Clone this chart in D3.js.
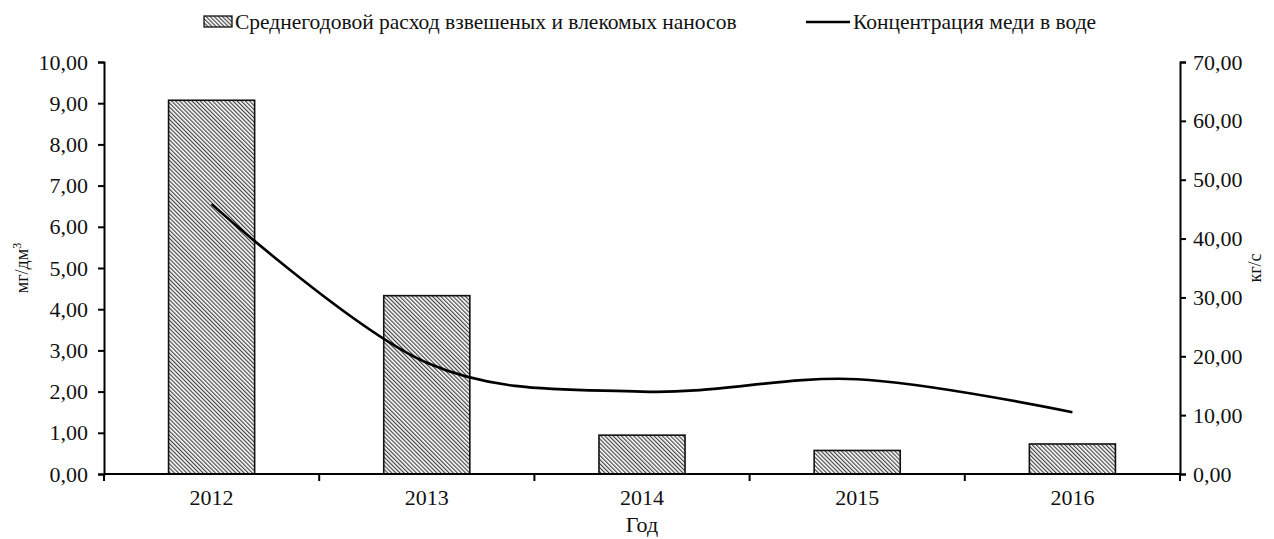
<!DOCTYPE html>
<html>
<head>
<meta charset="utf-8">
<script src="https://cdn.jsdelivr.net/npm/d3@7"></script>
<style>
  html, body { margin: 0; padding: 0; background: #fff; }
  svg { display: block; font-family: "Liberation Serif", "Times New Roman", serif; }
</style>
</head>
<body>
<svg id="chart" width="1274" height="539"></svg>
<script>
// Years on the category axis
const years = ["2012", "2013", "2014", "2015", "2016"];
// Mean annual discharge of suspended and bed sediments, kg/s (bars, right axis)
const sediment = [63.5, 30.3, 6.6, 4.0, 5.1];
// Copper concentration in water, mg/dm3 (smoothed line, left axis)
const copper = [6.55, 2.7, 2.0, 2.3, 1.5];
// Tick values for both value axes
const leftTicks = [0, 1, 2, 3, 4, 5, 6, 7, 8, 9, 10];
const rightTicks = [0, 10, 20, 30, 40, 50, 60, 70];

const seriesNames = ["Среднегодовой расход взвешеных и влекомых наносов", "Концентрация меди в воде"];

const svg = d3.select("#chart");
const plot = { left: 104, right: 1180, top: 62, bottom: 474 };
const ink = "#111";

const x = d3.scaleBand().domain(years).range([plot.left, plot.right]).paddingInner(0.6).paddingOuter(0.3);
const yLeft = d3.scaleLinear().domain([0, 10]).range([plot.bottom, plot.top]);
const yRight = d3.scaleLinear().domain([0, 70]).range([plot.bottom, plot.top]);
const fmt = v => d3.format(".2f")(v).replace(".", ",");

// Fine diagonal hatch fill for the bars
const defs = svg.append("defs");
const pat = defs.append("pattern")
  .attr("id", "hatch")
  .attr("patternUnits", "userSpaceOnUse")
  .attr("width", 2.9).attr("height", 2.9)
  .attr("patternTransform", "rotate(-45)");
pat.append("rect").attr("width", 2.9).attr("height", 2.9).attr("fill", "#fff");
pat.append("rect").attr("x", 0).attr("y", 0).attr("width", 1.2).attr("height", 2.9).attr("fill", "#444");

// Bars
svg.append("g").selectAll("rect")
  .data(years.map((y, i) => ({ y, v: sediment[i] })))
  .join("rect")
  .attr("x", d => x(d.y))
  .attr("y", d => yRight(d.v))
  .attr("width", x.bandwidth())
  .attr("height", d => yRight(0) - yRight(d.v))
  .attr("fill", "url(#hatch)")
  .attr("stroke", ink)
  .attr("stroke-width", 1.6);

// Smoothed concentration line
const line = d3.line()
  .x((d, i) => x(years[i]) + x.bandwidth() / 2)
  .y(d => yLeft(d))
  .curve(d3.curveCardinal.tension(0));
svg.append("path")
  .datum(copper)
  .attr("d", line)
  .attr("fill", "none")
  .attr("stroke", "#000")
  .attr("stroke-width", 2.6);

// Left axis
const gL = svg.append("g").attr("transform", `translate(${plot.left},0)`)
  .call(d3.axisLeft(yLeft).tickValues(leftTicks).tickFormat(fmt).tickSize(6).tickPadding(10));
// Right axis
const gR = svg.append("g").attr("transform", `translate(${plot.right},0)`)
  .call(d3.axisRight(yRight).tickValues(rightTicks).tickFormat(fmt).tickSize(6).tickPadding(7));
// Category axis with ticks between categories
const gX = svg.append("g").attr("transform", `translate(0,${plot.bottom})`)
  .call(d3.axisBottom(x).tickSize(0).tickPadding(15));
const bounds = d3.range(years.length + 1).map(i => plot.left + i * (plot.right - plot.left) / years.length);
gX.selectAll(".between").data(bounds).join("line")
  .attr("class", "between")
  .attr("x1", d => d).attr("x2", d => d)
  .attr("y1", 0).attr("y2", 7)
  .attr("stroke", "#000").attr("stroke-width", 2);
gX.select(".domain").attr("d", `M${plot.left},0H${plot.right}`);

[gL, gR, gX].forEach(g => {
  g.select(".domain").attr("stroke", "#000").attr("stroke-width", 2);
  g.selectAll(".tick line").attr("stroke", "#000").attr("stroke-width", 2);
  g.selectAll("text").attr("font-family", "Liberation Serif, serif").attr("font-size", 22).attr("fill", ink);
});

// Axis titles
svg.append("text")
  .attr("transform", `translate(28,${(plot.top + plot.bottom) / 2}) rotate(-90)`)
  .attr("text-anchor", "middle")
  .attr("font-size", 18).attr("fill", ink)
  .html('мг/дм<tspan dy="-7" font-size="12">3</tspan>');
svg.append("text")
  .attr("transform", `translate(1261,${(plot.top + plot.bottom) / 2}) rotate(-90)`)
  .attr("text-anchor", "middle")
  .attr("font-size", 18).attr("fill", ink)
  .text("кг/с");
svg.append("text")
  .attr("x", (plot.left + plot.right) / 2).attr("y", 532)
  .attr("text-anchor", "middle")
  .attr("font-size", 22).attr("fill", ink)
  .text("Год");

// Legend
const lg = svg.append("g");
lg.append("rect").attr("x", 204).attr("y", 16).attr("width", 28).attr("height", 11)
  .attr("fill", "url(#hatch)").attr("stroke", ink).attr("stroke-width", 1.3);
lg.append("text").attr("x", 235).attr("y", 29).attr("font-size", 21.5).attr("fill", ink).text(seriesNames[0]);
lg.append("line").attr("x1", 806).attr("x2", 850).attr("y1", 22).attr("y2", 22)
  .attr("stroke", "#000").attr("stroke-width", 2.6);
lg.append("text").attr("x", 853).attr("y", 29).attr("font-size", 21.5).attr("fill", ink).text(seriesNames[1]);
</script>
</body>
</html>
